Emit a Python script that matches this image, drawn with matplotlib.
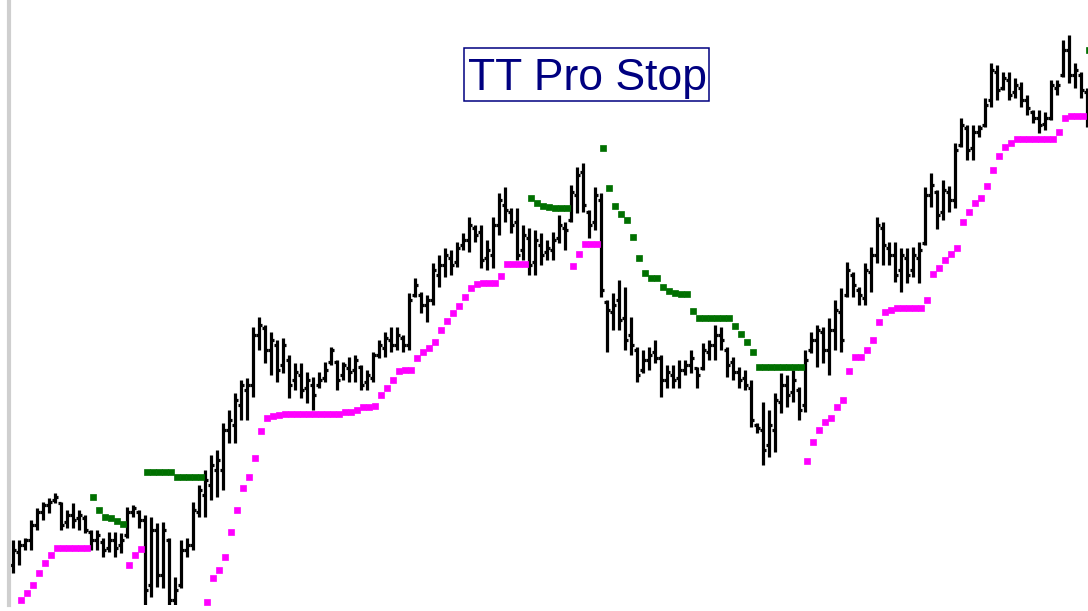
"""TT Pro Stop - OHLC bars with trailing support / resistance stop dots."""
import numpy as np
import matplotlib
matplotlib.use("Agg")
import matplotlib.pyplot as plt
from matplotlib.patches import Rectangle

# ── data (price units, one entry per bar) ─────────────────────────────
high = [71, 71, 73, 91, 103, 109, 113, 118, 109, 101, 108, 101, 96, 81, 81, 73, 79, 79, 78, 104,
        106, 101, 96, 94, 88, 89, 73, 34, 71, 73, 109, 126, 141, 156, 161, 188, 201, 218, 231, 233,
        284, 294, 286, 279, 271, 273, 256, 248, 248, 239, 234, 239, 249, 264, 251, 249, 254, 256, 246, 241,
        259, 271, 279, 284, 284, 276, 318, 333, 319, 316, 348, 356, 363, 361, 369, 378, 394, 386, 386, 371,
        394, 418, 424, 403, 403, 386, 383, 381, 378, 371, 379, 396, 389, 426, 444, 448, 401, 424, 418, 311,
        318, 331, 324, 294, 264, 261, 264, 271, 256, 246, 246, 251, 251, 261, 244, 268, 271, 286, 284, 264,
        254, 244, 241, 231, 188, 209, 201, 218, 238, 236, 241, 224, 261, 279, 286, 284, 293, 311, 323, 349,
        339, 324, 348, 364, 394, 389, 369, 369, 363, 363, 364, 369, 424, 438, 421, 431, 425, 468, 493, 486,
        486, 486, 513, 548, 546, 539, 539, 533, 529, 516, 501, 501, 499, 531, 531, 571, 576, 548, 539, 523]
low = [38, 46, 61, 61, 81, 91, 98, 108, 81, 83, 83, 81, 78, 61, 61, 54, 59, 54, 58, 73,
       94, 83, -4, 14, 24, 23, -4, -4, 23, 54, 61, 94, 94, 111, 114, 121, 168, 168, 191, 191,
       214, 261, 248, 236, 229, 238, 213, 221, 213, 208, 201, 223, 229, 246, 221, 231, 229, 229, 221, 221,
       229, 253, 254, 259, 261, 259, 261, 314, 298, 289, 306, 324, 334, 336, 344, 361, 359, 369, 343, 341,
       343, 376, 389, 378, 351, 351, 336, 336, 346, 351, 351, 368, 361, 389, 398, 399, 373, 381, 314, 259,
       281, 281, 261, 256, 229, 238, 241, 248, 214, 223, 223, 223, 236, 238, 223, 241, 251, 251, 261, 234,
       231, 223, 221, 184, 178, 146, 154, 159, 198, 204, 209, 191, 199, 258, 244, 248, 236, 261, 259, 314,
       314, 306, 306, 319, 348, 346, 346, 329, 319, 328, 334, 328, 366, 404, 382, 391, 399, 403, 464, 451,
       451, 474, 484, 504, 511, 521, 511, 513, 504, 496, 488, 478, 481, 491, 516, 534, 528, 523, 513, 484]
open_ = [46, 59, 66, 71, 86, 99, 106, 111, 108, 89, 96, 93, 93, 79, 71, 69, 63, 71, 66, 76,
         99, 99, 91, 26, 81, 36, 71, 11, 26, 61, 66, 99, 116, 126, 141, 141, 181, 186, 206, 221,
         226, 276, 283, 261, 266, 246, 251, 231, 236, 223, 226, 226, 233, 249, 249, 236, 243, 241, 244, 229,
         233, 256, 263, 271, 266, 273, 266, 316, 316, 306, 311, 336, 346, 353, 349, 366, 371, 383, 379, 353,
         356, 386, 406, 399, 389, 361, 373, 349, 366, 359, 361, 373, 383, 391, 416, 439, 399, 389, 411, 309,
         299, 311, 293, 276, 261, 241, 251, 259, 253, 231, 236, 233, 241, 246, 243, 243, 259, 266, 276, 261,
         249, 239, 233, 223, 186, 181, 166, 181, 209, 226, 219, 221, 206, 261, 271, 279, 261, 281, 299, 316,
         336, 321, 313, 339, 356, 383, 363, 356, 341, 353, 341, 353, 368, 416, 419, 399, 419, 411, 466, 483,
         463, 479, 486, 511, 539, 523, 531, 519, 523, 511, 499, 493, 487, 493, 523, 536, 561, 536, 536, 519]
close = [61, 66, 71, 86, 99, 106, 109, 114, 86, 96, 91, 96, 81, 71, 76, 61, 71, 63, 71, 99,
         103, 91, 21, 81, 36, 81, 11, 21, 61, 66, 101, 121, 131, 146, 151, 181, 191, 211, 226, 226,
         276, 286, 261, 271, 241, 266, 226, 239, 221, 231, 216, 231, 241, 261, 231, 246, 239, 251, 226, 236,
         256, 266, 273, 266, 276, 266, 311, 326, 306, 311, 341, 346, 356, 346, 363, 371, 386, 376, 351, 361,
         386, 411, 401, 386, 356, 376, 346, 371, 356, 363, 371, 386, 381, 419, 436, 406, 386, 416, 321, 301,
         306, 291, 271, 266, 236, 251, 256, 253, 231, 239, 231, 241, 246, 253, 236, 261, 266, 276, 271, 246,
         239, 231, 226, 191, 183, 161, 186, 211, 226, 216, 231, 201, 251, 271, 281, 261, 281, 301, 271, 341,
         326, 316, 341, 356, 386, 366, 356, 336, 356, 336, 356, 361, 416, 426, 396, 421, 411, 461, 486, 461,
         479, 483, 506, 541, 521, 533, 516, 526, 511, 503, 493, 486, 493, 526, 526, 561, 536, 541, 521, 491]

# support stop (magenta), NaN where the resistance stop is active
support = [np.nan, 11, 18, 26, 38, 48, 56, 63, 63, 63, 63, 63, 63, np.nan, np.nan, np.nan, np.nan, np.nan, np.nan, 46,
           56, 62, np.nan, np.nan, np.nan, np.nan, np.nan, np.nan, np.nan, np.nan, np.nan, np.nan, 9, 33, 41, 54, 79, 101, 123, 134,
           153, 180, 193, 195, 196, 197, 197, 197, 197, 197, 197, 197, 197, 197, 197, 199, 199, 201, 204, 204,
           205, 216, 223, 231, 240, 241, 241, 253, 259, 263, 269, 281, 290, 298, 305, 314, 323, 327, 328, 328,
           328, 335, 347, 347, 347, 347, np.nan, np.nan, np.nan, np.nan, np.nan, np.nan, np.nan, 345, 357, 367, 367, 367, np.nan, np.nan,
           np.nan, np.nan, np.nan, np.nan, np.nan, np.nan, np.nan, np.nan, np.nan, np.nan, np.nan, np.nan, np.nan, np.nan, np.nan, np.nan, np.nan, np.nan, np.nan, np.nan,
           np.nan, np.nan, np.nan, np.nan, np.nan, np.nan, np.nan, np.nan, np.nan, np.nan, np.nan, np.nan, 150, 169, 181, 189, 193, 204, 211, 240,
           254, 254, 261, 271, 289, 299, 301, 303, 303, 303, 303, 303, 311, 337, 343, 351, 357, 363, 389, 399,
           408, 413, 425, 441, 455, 464, 468, 472, 472, 472, 472, 472, 472, 472, 479, 493, 495, 495, 495, np.nan]
# resistance stop (green), NaN where the support stop is active
resist = [np.nan] * 13 + [114, 101, 94, 93, 90, 87] + [np.nan] * 3 + [139] * 5 + [134] * 5 \
    + [np.nan] * 54 + [413, 408, 405, 404, 403, 403, 403] + [np.nan] * 5 \
    + [463, 423, 405, 397, 391, 374, 353, 338, 333, 333, 324, 320, 318, 317, 317, 300,
       293, 293, 293, 293, 293, 293, 285, 277, 269, 259, 244, 244, 244, 244, 244, 244, 244, 244] \
    + [np.nan] * 47 + [561]

TITLE = "TT Pro Stop"

# ── plot ──────────────────────────────────────────────────────────────
W, H = 1088, 611
x = np.arange(len(high))
fig = plt.figure(figsize=(W / 100, H / 100), dpi=100)
ax = fig.add_axes([9 / W, 6 / H, 1 - 9 / W, 1 - 6 / H])

bar_lw = 2.3
ax.vlines(x, low, high, color="black", lw=bar_lw)
ax.hlines(open_, x - 0.55, x, color="black", lw=bar_lw)
ax.hlines(close, x, x + 0.55, color="black", lw=bar_lw)

ax.plot(x + 0.25, support, ls="none", marker="s", ms=4.8, mew=0.5, color="#ff00ff")
ax.plot(x + 0.25, resist, ls="none", marker="s", ms=4.8, mew=0.5, color="#007000")

ax.set_xlim(-0.67, -0.67 + (W - 9) / 6)
ax.set_ylim(6, 611)
ax.set_xticks([]); ax.set_yticks([])
for side in ("top", "right", "bottom"):
    ax.spines[side].set_visible(False)
ax.spines["left"].set_color("#cfcfcf")
ax.spines["left"].set_linewidth(3)

# title box
fig.add_artist(Rectangle((464 / W, 1 - 101 / H), 245 / W, 53 / H, transform=fig.transFigure,
                         fc="white", ec="#000080", lw=1.1, zorder=5))
fig.text(587 / W, 1 - 90 / H, TITLE, ha="center", va="baseline", zorder=6,
         fontsize=32, color="#000080", family=["Liberation Sans", "DejaVu Sans"])

fig.savefig("out.png", dpi=100)
